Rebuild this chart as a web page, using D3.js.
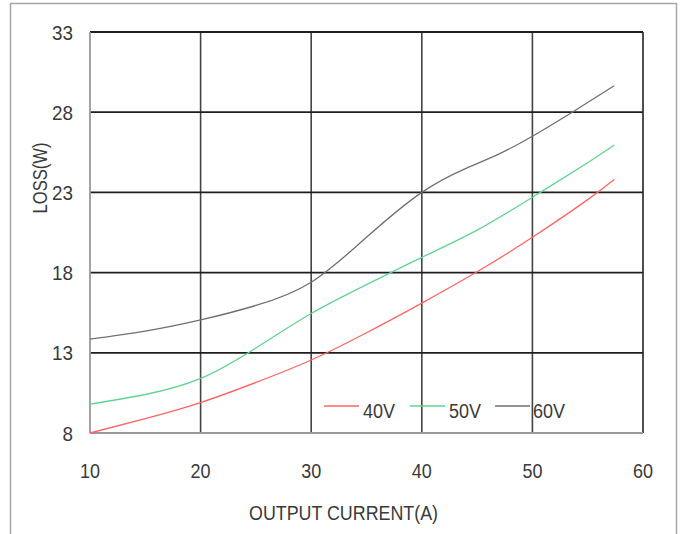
<!DOCTYPE html>
<html>
<head>
<meta charset="utf-8">
<script src="https://cdn.jsdelivr.net/npm/d3@7"></script>
<style>
  html, body { margin: 0; padding: 0; background: #fff; }
  svg { display: block; }
  text { font-family: "Liberation Sans", Arial, sans-serif; fill: #3a3a3a; }
</style>
</head>
<body>
<svg id="chart" width="681" height="534"></svg>
<script>
// Power loss vs. output current at three input voltages
const xTicks = [10, 20, 30, 40, 50, 60];
const yTicks = [8, 13, 18, 23, 28, 33];

const seriesNames = ["40V", "50V", "60V"];
const seriesColors = ["#ff6464", "#62d395", "#707070"];

const loss40V = [
  [10, 8.0], [15, 8.9], [20, 9.9], [25, 11.15], [30, 12.55], [35, 14.25],
  [40, 16.1], [45, 18.05], [50, 20.2], [55, 22.55], [57.4, 23.8]
];
const loss50V = [
  [10, 9.8], [15, 10.4], [20, 11.4], [25, 13.3], [30, 15.45], [35, 17.25],
  [40, 18.95], [45, 20.65], [50, 22.7], [55, 24.85], [57.4, 25.95]
];
const loss60V = [
  [10, 13.85], [15, 14.35], [20, 15.05], [25, 15.95], [30, 17.4], [35, 20.2],
  [40, 23.0], [44, 24.5], [47, 25.4], [50, 26.5], [53.6, 28.0], [57.4, 29.65]
];
const seriesData = [loss40V, loss50V, loss60V];

const svg = d3.select("#chart");
const W = 681, H = 534;
const plot = { left: 90, right: 643, top: 32, bottom: 433 };

// outer frame (open at the bottom)
svg.append("path")
  .attr("d", `M10.5,${H} L10.5,3.5 L676.5,3.5 L676.5,${H}`)
  .attr("fill", "none").attr("stroke", "#a8a8a8").attr("stroke-width", 1.5);

const x = d3.scaleLinear().domain([10, 60]).range([plot.left, plot.right]);
const y = d3.scaleLinear().domain([8, 33]).range([plot.bottom, plot.top]);

// vertical grid lines
svg.append("g").selectAll("line")
  .data(xTicks.slice(1))
  .join("line")
  .attr("x1", d => x(d)).attr("x2", d => x(d))
  .attr("y1", plot.top).attr("y2", plot.bottom)
  .attr("stroke", d => d === 60 ? "#222" : "#444").attr("stroke-width", 1.6);

// horizontal grid lines
svg.append("g").selectAll("line")
  .data(yTicks.slice(1))
  .join("line")
  .attr("x1", plot.left).attr("x2", plot.right)
  .attr("y1", d => y(d)).attr("y2", d => y(d))
  .attr("stroke", "#1e1e1e").attr("stroke-width", 1.8);

// left and bottom plot edges
svg.append("line")
  .attr("x1", plot.left).attr("x2", plot.left)
  .attr("y1", plot.top).attr("y2", plot.bottom)
  .attr("stroke", "#999").attr("stroke-width", 1.8);
svg.append("line")
  .attr("x1", plot.left).attr("x2", plot.right)
  .attr("y1", plot.bottom).attr("y2", plot.bottom)
  .attr("stroke", "#999").attr("stroke-width", 1.8);

// tick labels
svg.append("g").selectAll("text")
  .data(yTicks)
  .join("text")
  .attr("x", 73).attr("y", d => y(d))
  .attr("text-anchor", "end").attr("dominant-baseline", "central")
  .attr("font-size", 21)
  .attr("textLength", d => String(d).length * 10.5)
  .attr("lengthAdjust", "spacingAndGlyphs")
  .text(d => d);

svg.append("g").selectAll("text")
  .data(xTicks)
  .join("text")
  .attr("x", d => x(d)).attr("y", 470)
  .attr("text-anchor", "middle").attr("dominant-baseline", "central")
  .attr("font-size", 21)
  .attr("textLength", 20)
  .attr("lengthAdjust", "spacingAndGlyphs")
  .text(d => d);

// axis titles
svg.append("text")
  .attr("x", 343.5).attr("y", 513)
  .attr("text-anchor", "middle").attr("dominant-baseline", "central")
  .attr("font-size", 20)
  .attr("textLength", 189).attr("lengthAdjust", "spacingAndGlyphs")
  .text("OUTPUT CURRENT(A)");

svg.append("text")
  .attr("transform", "translate(40,178) rotate(-90)")
  .attr("text-anchor", "middle").attr("dominant-baseline", "central")
  .attr("font-size", 20)
  .attr("textLength", 71).attr("lengthAdjust", "spacingAndGlyphs")
  .text("LOSS(W)");

// curves (natural cubic spline through the measured points)
const line = d3.line()
  .x(d => x(d[0])).y(d => y(d[1]))
  .curve(d3.curveNatural);

svg.append("g").selectAll("path")
  .data(seriesData)
  .join("path")
  .attr("d", line)
  .attr("fill", "none")
  .attr("stroke", (d, i) => seriesColors[i])
  .attr("stroke-width", 1.3);

// legend
const legendX = [324, 410, 495];
const legend = svg.append("g").selectAll("g")
  .data(seriesNames)
  .join("g")
  .attr("transform", (d, i) => `translate(${legendX[i]},406)`);
legend.append("line")
  .attr("x1", 0).attr("x2", 35)
  .attr("stroke", (d, i) => seriesColors[i]).attr("stroke-width", 1.3);
legend.append("text")
  .attr("x", (d, i) => i === 2 ? 38 : 39).attr("y", 5)
  .attr("dominant-baseline", "central")
  .attr("font-size", 20)
  .attr("textLength", 32).attr("lengthAdjust", "spacingAndGlyphs")
  .text(d => d);
</script>
</body>
</html>
